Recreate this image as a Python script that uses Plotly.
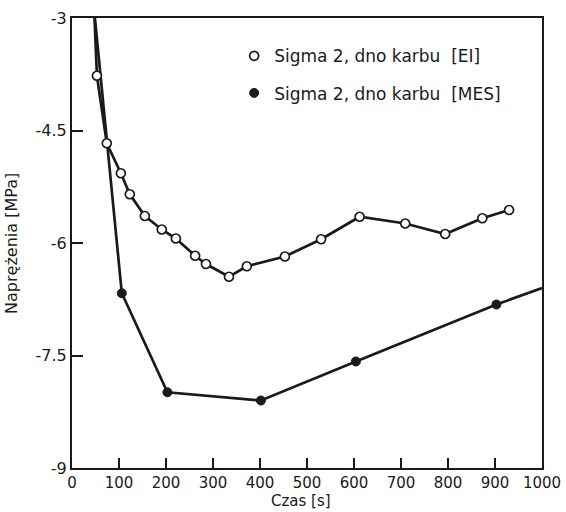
import plotly.graph_objects as go

# Data
ei_x = [40, 53, 74, 104, 123, 155, 191, 221, 262, 285, 334, 372, 453, 530, 612, 709, 794, 873, 930]
ei_y = [-1.8, -3.77, -4.67, -5.07, -5.35, -5.64, -5.82, -5.94, -6.17, -6.28, -6.45, -6.31, -6.18, -5.95, -5.65, -5.74, -5.88, -5.67, -5.56]

mes_x = [30, 106, 203, 402, 604, 903, 1000]
mes_y = [-1.8, -6.67, -7.99, -8.10, -7.58, -6.82, -6.60]
mes_marked = [True, True, True, True, True, True, False]

x_ticks = [0, 100, 200, 300, 400, 500, 600, 700, 800, 900, 1000]
y_ticks = [-3, -4.5, -6, -7.5, -9]
y_tick_labels = ["-3", "-4.5", "-6", "-7.5", "-9"]

name_ei = "Sigma 2, dno karbu  [EI]"
name_mes = "Sigma 2, dno karbu  [MES]"
x_title = "Czas [s]"
y_title = "Naprężenia [MPa]"

FONT = "DejaVu Sans"
INK = "#1a1a1a"

fig = go.Figure()

# lines (no legend)
fig.add_trace(go.Scatter(x=ei_x, y=ei_y, mode="lines", line=dict(color=INK, width=2.7),
                         showlegend=False, hoverinfo="skip", legendgroup="ei"))
fig.add_trace(go.Scatter(x=mes_x, y=mes_y, mode="lines", line=dict(color=INK, width=2.7),
                         showlegend=False, hoverinfo="skip", legendgroup="mes"))

# markers (legend entries)
fig.add_trace(go.Scatter(x=ei_x, y=ei_y, mode="markers", name=name_ei, legendgroup="ei",
                         marker=dict(symbol="circle", size=9, color="white",
                                     line=dict(color=INK, width=1.7))))
mx = [x for x, m in zip(mes_x, mes_marked) if m]
my = [y for y, m in zip(mes_y, mes_marked) if m]
fig.add_trace(go.Scatter(x=mx, y=my, mode="markers", name=name_mes, legendgroup="mes",
                         marker=dict(symbol="circle", size=9, color=INK,
                                     line=dict(color=INK, width=1))))

fig.update_layout(
    width=566, height=512,
    margin=dict(l=72, r=24, t=18, b=44),
    paper_bgcolor="white", plot_bgcolor="white",
    font=dict(family=FONT, size=16, color=INK),
    showlegend=True,
    legend=dict(x=0.345, y=0.955, xanchor="left", yanchor="top",
                bgcolor="rgba(0,0,0,0)", borderwidth=0,
                font=dict(size=17, family=FONT, color=INK),
                tracegroupgap=12, itemwidth=30),
    xaxis=dict(range=[0, 1000], tickmode="array", tickvals=x_ticks,
               ticks="inside", ticklen=10, tickwidth=1.6, tickcolor=INK,
               showline=True, linecolor=INK, linewidth=2, mirror=True,
               showgrid=False, zeroline=False, automargin=False,
               tickfont=dict(size=15, family=FONT, color=INK)),
    yaxis=dict(range=[-9, -3], tickmode="array", tickvals=y_ticks, ticktext=y_tick_labels,
               ticks="inside", ticklen=11, tickwidth=1.6, tickcolor=INK,
               showline=True, linecolor=INK, linewidth=2, mirror=True,
               showgrid=False, zeroline=False, automargin=False,
               tickfont=dict(size=16, family=FONT, color=INK)),
    annotations=[
        dict(text=x_title, xref="paper", yref="paper", x=0.487, y=-0.0955,
             xanchor="center", yanchor="bottom", showarrow=False, borderpad=0,
             font=dict(size=15, family=FONT, color=INK)),
        dict(text=y_title, xref="paper", yref="paper", x=-0.13, y=0.5,
             xanchor="center", yanchor="middle", showarrow=False, textangle=-90,
             font=dict(size=16, family=FONT, color=INK)),
    ],
)

fig.write_html("out.html")
